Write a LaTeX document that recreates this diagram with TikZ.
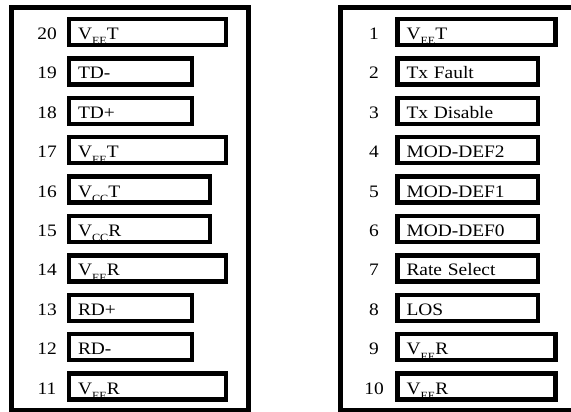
\documentclass[tikz,border=0pt]{standalone}
\usepackage{fontspec}
\setmainfont{Liberation Serif}[FakeStretch=1.11]
\newcommand{\pinsub}[1]{\raisebox{-5.5pt}{\fontsize{11}{13}\selectfont #1}}

\begin{document}
\begin{tikzpicture}[x=1pt,y=-1pt,font=\fontsize{17.5}{21}\selectfont,
  frame/.style={draw,line width=4.5pt},
  pin/.style={draw,line width=4.5pt,anchor=west,outer sep=0pt,inner xsep=9pt,
    inner ysep=0pt,minimum height=26pt,text height=15pt,text depth=0pt,align=left},
  pinlong/.style={pin,text width=139pt},
  pinmid/.style={pin,text width=123pt},
  pinshort/.style={pin,text width=105pt},
  pinlongr/.style={pin,text width=140pt},
  pinmidr/.style={pin,text width=122.5pt},
  pinno/.style={text height=15pt,text depth=0pt,inner sep=0pt}]
\clip (0,0) rectangle (571,412);
% connector outlines
\draw[frame] (11.5,7.5) rectangle (248.5,410);
\draw[frame] (340.5,7.5) rectangle (600,410);
% left row, pins 20 to 11
\node (n20) [pinno] at (47,32) {20};    \node (p20) [pinlong]  at (69,32) {V\pinsub{EE}T};
\node (n19) [pinno] at (47,71.4) {19};  \node (p19) [pinshort] at (69,71.4) {TD-};
\node (n18) [pinno] at (47,110.8) {18}; \node (p18) [pinshort] at (69,110.8) {TD+};
\node (n17) [pinno] at (47,150.2) {17}; \node (p17) [pinlong]  at (69,150.2) {V\pinsub{EE}T};
\node (n16) [pinno] at (47,189.6) {16}; \node (p16) [pinmid]   at (69,189.6) {V\pinsub{CC}T};
\node (n15) [pinno] at (47,229) {15};   \node (p15) [pinmid]   at (69,229) {V\pinsub{CC}R};
\node (n14) [pinno] at (47,268.4) {14}; \node (p14) [pinlong]  at (69,268.4) {V\pinsub{EE}R};
\node (n13) [pinno] at (47,307.8) {13}; \node (p13) [pinshort] at (69,307.8) {RD+};
\node (n12) [pinno] at (47,347.2) {12}; \node (p12) [pinshort] at (69,347.2) {RD-};
\node (n11) [pinno] at (47,386.6) {11}; \node (p11) [pinlong]  at (69,386.6) {V\pinsub{EE}R};
% right row, pins 1 to 10
\node (n1) [pinno] at (374,32) {1};     \node (p1) [pinlongr] at (397.5,32) {V\pinsub{EE}T};
\node (n2) [pinno] at (374,71.4) {2};   \node (p2) [pinmidr]  at (397.5,71.4) {Tx Fault};
\node (n3) [pinno] at (374,110.8) {3};  \node (p3) [pinmidr]  at (397.5,110.8) {Tx Disable};
\node (n4) [pinno] at (374,150.2) {4};  \node (p4) [pinmidr]  at (397.5,150.2) {MOD-DEF2};
\node (n5) [pinno] at (374,189.6) {5};  \node (p5) [pinmidr]  at (397.5,189.6) {MOD-DEF1};
\node (n6) [pinno] at (374,229) {6};    \node (p6) [pinmidr]  at (397.5,229) {MOD-DEF0};
\node (n7) [pinno] at (374,268.4) {7};  \node (p7) [pinmidr]  at (397.5,268.4) {Rate Select};
\node (n8) [pinno] at (374,307.8) {8};  \node (p8) [pinmidr]  at (397.5,307.8) {LOS};
\node (n9) [pinno] at (374,347.2) {9};  \node (p9) [pinlongr] at (397.5,347.2) {V\pinsub{EE}R};
\node (n10) [pinno] at (374,386.6) {10};\node (p10) [pinlongr] at (397.5,386.6) {V\pinsub{EE}R};
\end{tikzpicture}
\end{document}
